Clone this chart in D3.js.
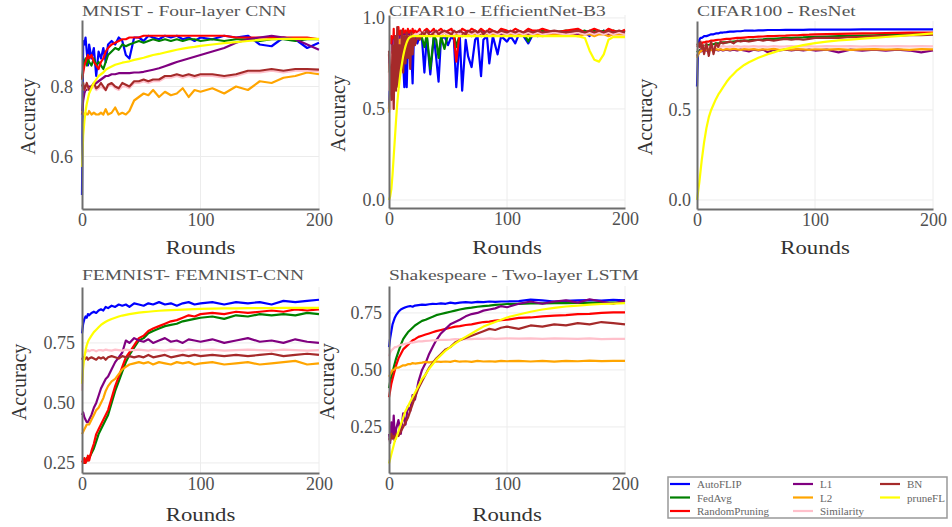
<!DOCTYPE html>
<html>
<head>
<meta charset="utf-8">
<script src="https://cdn.jsdelivr.net/npm/d3@7"></script>
<style>
body { margin: 0; background: #fff; }
svg text { font-family: "Liberation Serif", "Times New Roman", serif; }
.spine path { stroke: #6e6e6e; stroke-width: 2; }
.spine text { fill: #505050; font-size: 18px; }
.grid { stroke: #ececec; stroke-width: 1; }
.acc { fill: none; stroke-width: 2.2; stroke-linejoin: round; }
</style>
</head>
<body>
<div id="chart"></div>
<script>
// legend order = plotting order
var methods = ["AutoFLIP", "FedAvg", "RandomPruning", "L1", "L2", "Similarity", "BN", "pruneFL"];
var colors = ["#0000ff", "#008000", "#ff0000", "#800080", "#ffa500", "#ffc0cb", "#a52a2a", "#ffff00"];
var titles = ["MNIST - Four-layer CNN", "CIFAR10 - EfficientNet-B3", "CIFAR100 - ResNet",
  "FEMNIST- FEMNIST-CNN", "Shakespeare - Two-layer LSTM"];
var xTicks = [0, 100, 200];

// rounds (MNIST, CIFAR100, FEMNIST, Shakespeare)
var rounds = [0,1,2,3,4,5,6,8,10,12,14,
  16,18,20,22,25,28,31,34,37,40,44,
  48,52,56,60,65,70,75,80,85,90,95,
  100,110,120,130,140,150,160,170,180,190,200];

// CIFAR10 is much spikier, so it gets a denser set
var cifar10Rounds = [0,1,2,3,4,5,6,7,8,9,10,11,12,
  13,14,15,16,17,18,19,20,21,22,
  24,26,28,30,32,35,38,40,42,44,
  47,50,53,55,57,60,62,65,67,70,
  73,75,78,80,83,85,88,92,95,100,
  103,107,110,114,118,122,126,130,140,150,
  160,166,170,174,178,182,186,190,195,200];

var mnistAcc = {
  AutoFLIP: [0.49,0.93,0.92,0.94,0.90,0.86,0.92,0.88,0.91,0.83,0.90,
    0.88,0.91,0.87,0.92,0.93,0.92,0.94,0.93,0.89,0.88,0.94,
    0.94,0.93,0.945,0.94,0.935,0.945,0.94,0.945,0.935,0.94,0.93,
    0.94,0.935,0.945,0.94,0.945,0.92,0.915,0.94,0.935,0.91,0.925],
  FedAvg: [0.82,0.85,0.87,0.88,0.86,0.88,0.87,0.86,0.88,0.86,0.87,
    0.86,0.85,0.87,0.89,0.90,0.91,0.905,0.92,0.915,0.92,0.925,
    0.93,0.925,0.93,0.935,0.93,0.935,0.93,0.935,0.93,0.935,0.935,
    0.93,0.935,0.93,0.935,0.935,0.93,0.935,0.935,0.93,0.935,0.935],
  RandomPruning: [0.82,0.84,0.86,0.87,0.88,0.89,0.88,0.89,0.87,0.86,0.85,
    0.87,0.88,0.90,0.91,0.92,0.925,0.93,0.935,0.935,0.94,0.94,
    0.94,0.945,0.945,0.945,0.945,0.945,0.945,0.945,0.945,0.945,0.945,
    0.945,0.945,0.945,0.94,0.94,0.94,0.94,0.94,0.94,0.94,0.935],
  L1: [0.72,0.76,0.78,0.79,0.79,0.80,0.80,0.80,0.805,0.81,0.815,
    0.82,0.825,0.83,0.83,0.835,0.835,0.838,0.838,0.838,0.838,0.84,
    0.84,0.842,0.845,0.848,0.852,0.858,0.864,0.87,0.875,0.88,0.885,
    0.89,0.90,0.91,0.925,0.935,0.94,0.945,0.94,0.935,0.92,0.905],
  L2: [0.73,0.72,0.72,0.725,0.72,0.72,0.73,0.72,0.725,0.72,0.72,
    0.725,0.72,0.735,0.72,0.725,0.74,0.72,0.725,0.72,0.73,0.76,
    0.77,0.78,0.775,0.79,0.77,0.785,0.775,0.78,0.795,0.77,0.79,
    0.785,0.795,0.78,0.80,0.79,0.815,0.81,0.825,0.83,0.84,0.835],
  Similarity: [0.79,0.80,0.79,0.795,0.80,0.795,0.79,0.795,0.80,0.79,0.795,
    0.80,0.795,0.79,0.80,0.805,0.795,0.79,0.80,0.80,0.795,0.81,
    0.81,0.815,0.81,0.815,0.815,0.825,0.825,0.83,0.825,0.83,0.825,
    0.83,0.83,0.825,0.83,0.84,0.84,0.845,0.84,0.845,0.845,0.843],
  BN: [0.80,0.81,0.79,0.80,0.81,0.80,0.79,0.80,0.81,0.795,0.80,
    0.81,0.80,0.79,0.805,0.81,0.80,0.795,0.81,0.805,0.80,0.815,
    0.815,0.82,0.815,0.82,0.82,0.83,0.83,0.835,0.83,0.835,0.83,
    0.835,0.835,0.83,0.835,0.845,0.845,0.85,0.845,0.85,0.85,0.848],
  pruneFL: [0.57,0.66,0.70,0.73,0.75,0.765,0.78,0.795,0.81,0.82,0.83,
    0.835,0.84,0.848,0.852,0.857,0.862,0.865,0.868,0.87,0.872,0.876,
    0.879,0.882,0.886,0.89,0.893,0.897,0.901,0.905,0.908,0.911,0.913,
    0.916,0.92,0.924,0.927,0.93,0.933,0.935,0.936,0.936,0.936,0.936]
};

var cifar10Acc = {
  AutoFLIP: [0.5,0.68,0.55,0.72,0.6,0.82,0.7,0.88,0.78,0.9,0.85,0.88,0.75,
    0.62,0.88,0.62,0.86,0.78,0.9,0.8,0.64,0.88,0.9,
    0.86,0.9,0.88,0.7,0.9,0.69,0.9,0.78,0.65,0.88,
    0.9,0.85,0.9,0.88,0.62,0.9,0.6,0.88,0.79,0.73,
    0.88,0.9,0.68,0.88,0.9,0.75,0.9,0.8,0.9,0.87,
    0.9,0.86,0.91,0.9,0.86,0.91,0.9,0.92,0.91,0.92,
    0.93,0.92,0.9,0.93,0.92,0.93,0.91,0.925,0.92,0.92],
  FedAvg: [0.7,0.8,0.75,0.88,0.7,0.9,0.82,0.9,0.85,0.91,0.86,0.9,0.88,
    0.9,0.88,0.91,0.89,0.9,0.87,0.91,0.9,0.89,0.91,
    0.9,0.91,0.89,0.84,0.91,0.72,0.9,0.88,0.78,0.9,
    0.83,0.91,0.9,0.91,0.84,0.91,0.9,0.92,0.91,0.9,
    0.92,0.91,0.9,0.92,0.91,0.92,0.91,0.92,0.91,0.92,
    0.91,0.92,0.91,0.92,0.87,0.92,0.92,0.93,0.92,0.93,
    0.92,0.93,0.92,0.93,0.92,0.93,0.92,0.93,0.92,0.93],
  RandomPruning: [0.8,0.62,0.9,0.7,0.94,0.65,0.88,0.78,0.95,0.82,0.93,0.85,0.94,
    0.88,0.93,0.85,0.94,0.9,0.93,0.88,0.94,0.91,0.93,
    0.92,0.94,0.9,0.93,0.94,0.92,0.94,0.91,0.93,0.94,
    0.92,0.93,0.94,0.9,0.76,0.92,0.94,0.93,0.92,0.94,
    0.93,0.92,0.94,0.93,0.92,0.94,0.93,0.92,0.94,0.93,
    0.92,0.94,0.93,0.92,0.94,0.93,0.93,0.94,0.92,0.93,
    0.94,0.92,0.93,0.94,0.93,0.92,0.94,0.93,0.92,0.935],
  L1: [0.75,0.8,0.85,0.82,0.88,0.85,0.9,0.87,0.9,0.88,0.9,0.89,0.9,
    0.91,0.9,0.91,0.9,0.91,0.9,0.91,0.91,0.9,0.91,
    0.91,0.92,0.91,0.92,0.91,0.92,0.91,0.92,0.91,0.92,
    0.92,0.91,0.92,0.91,0.92,0.92,0.91,0.92,0.92,0.91,
    0.92,0.92,0.91,0.92,0.92,0.91,0.92,0.92,0.91,0.92,
    0.92,0.91,0.92,0.92,0.91,0.92,0.92,0.91,0.92,0.92,
    0.91,0.92,0.92,0.91,0.92,0.92,0.91,0.92,0.92,0.92],
  L2: [0.48,0.6,0.55,0.7,0.65,0.8,0.75,0.85,0.82,0.88,0.86,0.89,0.88,
    0.9,0.89,0.9,0.89,0.9,0.9,0.9,0.91,0.9,0.91,
    0.91,0.9,0.91,0.91,0.9,0.91,0.91,0.9,0.91,0.91,
    0.9,0.91,0.91,0.9,0.91,0.91,0.9,0.91,0.91,0.9,
    0.91,0.91,0.9,0.91,0.91,0.9,0.91,0.91,0.9,0.91,
    0.91,0.9,0.91,0.91,0.9,0.91,0.91,0.9,0.91,0.91,
    0.9,0.91,0.91,0.9,0.91,0.91,0.9,0.91,0.91,0.91],
  Similarity: [0.6,0.85,0.5,0.8,0.55,0.88,0.65,0.9,0.7,0.85,0.75,0.9,0.8,
    0.88,0.82,0.9,0.85,0.9,0.86,0.91,0.88,0.9,0.91,
    0.91,0.92,0.91,0.92,0.91,0.91,0.92,0.91,0.92,0.91,
    0.92,0.91,0.92,0.91,0.92,0.91,0.92,0.91,0.92,0.91,
    0.92,0.91,0.92,0.91,0.92,0.91,0.92,0.91,0.92,0.91,
    0.92,0.91,0.92,0.91,0.92,0.91,0.92,0.91,0.92,0.91,
    0.92,0.91,0.92,0.91,0.92,0.91,0.92,0.91,0.92,0.91],
  BN: [0.82,0.7,0.55,0.85,0.5,0.9,0.6,0.95,0.62,0.85,0.72,0.93,0.7,
    0.9,0.75,0.92,0.78,0.9,0.72,0.92,0.8,0.9,0.85,
    0.9,0.88,0.92,0.91,0.93,0.9,0.92,0.93,0.91,0.92,
    0.93,0.92,0.91,0.93,0.92,0.93,0.92,0.91,0.93,0.92,
    0.93,0.92,0.93,0.91,0.93,0.92,0.93,0.92,0.93,0.92,
    0.93,0.92,0.93,0.92,0.93,0.92,0.93,0.92,0.93,0.92,
    0.93,0.92,0.93,0.92,0.93,0.92,0.93,0.92,0.93,0.92],
  pruneFL: [0.0,0.02,0.06,0.14,0.24,0.34,0.44,0.53,0.6,0.66,0.71,0.75,0.79,
    0.82,0.845,0.865,0.88,0.89,0.895,0.898,0.9,0.9,0.9,
    0.9,0.9,0.9,0.9,0.9,0.9,0.9,0.9,0.9,0.9,
    0.9,0.9,0.9,0.9,0.9,0.9,0.9,0.9,0.9,0.9,
    0.9,0.9,0.9,0.9,0.9,0.9,0.9,0.9,0.9,0.9,
    0.9,0.9,0.9,0.9,0.9,0.9,0.9,0.9,0.9,0.9,
    0.9,0.89,0.82,0.77,0.76,0.8,0.88,0.895,0.895,0.895]
};

var cifar100Acc = {
  AutoFLIP: [0.63,0.84,0.89,0.9,0.9,0.905,0.91,0.91,0.915,0.92,0.92,
    0.925,0.925,0.93,0.93,0.932,0.935,0.935,0.937,0.937,0.94,0.94,
    0.94,0.942,0.942,0.944,0.944,0.944,0.945,0.945,0.945,0.945,0.946,
    0.946,0.946,0.946,0.946,0.947,0.947,0.947,0.947,0.947,0.947,0.947],
  FedAvg: [0.82,0.83,0.84,0.845,0.85,0.85,0.855,0.86,0.86,0.865,0.865,
    0.87,0.87,0.872,0.875,0.875,0.878,0.88,0.882,0.885,0.885,0.887,
    0.89,0.89,0.892,0.895,0.895,0.898,0.9,0.9,0.902,0.903,0.905,
    0.906,0.908,0.91,0.912,0.913,0.915,0.917,0.918,0.92,0.921,0.922],
  RandomPruning: [0.85,0.86,0.865,0.87,0.87,0.875,0.875,0.88,0.88,0.885,0.885,
    0.888,0.89,0.89,0.892,0.895,0.895,0.898,0.9,0.9,0.902,0.905,
    0.905,0.907,0.908,0.91,0.91,0.912,0.913,0.915,0.915,0.917,0.918,
    0.92,0.921,0.923,0.924,0.925,0.926,0.927,0.928,0.929,0.93,0.93],
  L1: [0.8,0.81,0.82,0.83,0.825,0.83,0.835,0.83,0.83,0.835,0.83,
    0.835,0.83,0.835,0.83,0.835,0.83,0.835,0.83,0.835,0.83,0.825,
    0.835,0.83,0.835,0.82,0.835,0.83,0.835,0.83,0.835,0.83,0.835,
    0.83,0.835,0.82,0.835,0.83,0.835,0.83,0.835,0.83,0.82,0.83],
  L2: [0.79,0.81,0.82,0.825,0.83,0.835,0.83,0.835,0.838,0.832,0.836,
    0.838,0.834,0.837,0.833,0.838,0.835,0.839,0.836,0.834,0.838,0.835,
    0.838,0.834,0.837,0.835,0.839,0.834,0.837,0.835,0.838,0.836,0.834,
    0.837,0.835,0.838,0.834,0.836,0.838,0.835,0.837,0.834,0.838,0.836],
  Similarity: [0.83,0.84,0.845,0.85,0.848,0.852,0.85,0.853,0.85,0.852,0.851,
    0.853,0.85,0.852,0.854,0.851,0.853,0.852,0.854,0.851,0.853,0.852,
    0.854,0.852,0.853,0.851,0.854,0.852,0.853,0.855,0.852,0.853,0.854,
    0.852,0.854,0.853,0.855,0.852,0.854,0.853,0.855,0.853,0.854,0.853],
  BN: [0.86,0.87,0.85,0.88,0.84,0.86,0.81,0.87,0.8,0.88,0.81,
    0.87,0.85,0.88,0.87,0.875,0.88,0.87,0.885,0.88,0.885,0.88,
    0.885,0.89,0.885,0.89,0.885,0.89,0.895,0.89,0.895,0.89,0.895,
    0.9,0.9,0.9,0.905,0.905,0.91,0.91,0.912,0.915,0.915,0.918],
  pruneFL: [0.0,0.05,0.1,0.16,0.22,0.27,0.32,0.4,0.46,0.5,0.53,
    0.56,0.585,0.605,0.625,0.655,0.68,0.7,0.72,0.735,0.75,0.765,
    0.778,0.79,0.8,0.81,0.82,0.83,0.838,0.846,0.853,0.86,0.866,
    0.871,0.879,0.886,0.891,0.896,0.9,0.905,0.91,0.915,0.92,0.925]
};

var femnistAcc = {
  AutoFLIP: [0.79,0.83,0.85,0.86,0.855,0.87,0.865,0.875,0.88,0.875,0.885,
    0.89,0.885,0.9,0.895,0.905,0.9,0.91,0.905,0.91,0.9,0.915,
    0.91,0.905,0.915,0.91,0.92,0.91,0.915,0.905,0.915,0.92,0.91,
    0.915,0.92,0.91,0.92,0.915,0.92,0.91,0.925,0.92,0.925,0.93],
  FedAvg: [0.26,0.26,0.25,0.26,0.27,0.26,0.27,0.29,0.31,0.34,0.37,
    0.39,0.41,0.43,0.45,0.5,0.55,0.59,0.63,0.67,0.7,0.73,
    0.76,0.77,0.79,0.8,0.81,0.82,0.825,0.83,0.84,0.845,0.85,
    0.855,0.86,0.85,0.865,0.86,0.87,0.865,0.87,0.865,0.875,0.87],
  RandomPruning: [0.26,0.25,0.27,0.25,0.26,0.28,0.26,0.3,0.33,0.37,0.39,
    0.41,0.43,0.45,0.47,0.52,0.57,0.61,0.65,0.69,0.71,0.74,
    0.77,0.78,0.8,0.81,0.82,0.83,0.84,0.845,0.855,0.865,0.86,
    0.87,0.875,0.87,0.88,0.875,0.88,0.885,0.88,0.89,0.885,0.89],
  L1: [0.45,0.46,0.44,0.43,0.42,0.42,0.43,0.45,0.48,0.5,0.53,
    0.56,0.58,0.6,0.61,0.64,0.67,0.69,0.71,0.76,0.75,0.77,
    0.76,0.755,0.765,0.75,0.76,0.77,0.755,0.76,0.75,0.765,0.76,
    0.755,0.765,0.75,0.76,0.77,0.755,0.76,0.75,0.765,0.755,0.75],
  L2: [0.37,0.38,0.39,0.4,0.41,0.41,0.41,0.43,0.45,0.47,0.48,
    0.5,0.52,0.55,0.57,0.59,0.6,0.62,0.64,0.65,0.66,0.665,
    0.67,0.665,0.67,0.66,0.67,0.665,0.66,0.67,0.665,0.67,0.66,
    0.665,0.67,0.66,0.665,0.67,0.66,0.665,0.67,0.675,0.66,0.665],
  Similarity: [0.55,0.66,0.7,0.71,0.715,0.72,0.715,0.72,0.72,0.715,0.72,
    0.72,0.718,0.722,0.72,0.718,0.722,0.72,0.718,0.722,0.72,0.72,
    0.722,0.72,0.718,0.722,0.72,0.718,0.722,0.72,0.718,0.722,0.72,
    0.72,0.722,0.718,0.72,0.722,0.72,0.718,0.722,0.72,0.718,0.72],
  BN: [0.68,0.69,0.68,0.685,0.69,0.68,0.685,0.69,0.685,0.68,0.69,
    0.685,0.69,0.68,0.69,0.695,0.69,0.685,0.695,0.69,0.695,0.69,
    0.695,0.69,0.7,0.69,0.695,0.7,0.69,0.695,0.7,0.695,0.7,
    0.695,0.7,0.695,0.7,0.695,0.7,0.705,0.695,0.7,0.705,0.7],
  pruneFL: [0.58,0.65,0.69,0.72,0.74,0.755,0.765,0.78,0.795,0.805,0.815,
    0.825,0.832,0.838,0.843,0.85,0.855,0.86,0.864,0.867,0.87,0.873,
    0.876,0.878,0.88,0.882,0.884,0.886,0.887,0.888,0.889,0.89,0.891,
    0.892,0.893,0.894,0.894,0.895,0.895,0.895,0.896,0.896,0.896,0.896]
};

var shakespeareAcc = {
  AutoFLIP: [0.6,0.64,0.67,0.7,0.715,0.73,0.74,0.755,0.765,0.77,0.775,
    0.778,0.78,0.777,0.782,0.784,0.786,0.785,0.788,0.79,0.789,0.792,
    0.79,0.795,0.792,0.795,0.797,0.795,0.798,0.797,0.8,0.798,0.8,
    0.8,0.802,0.808,0.805,0.8,0.803,0.805,0.806,0.804,0.807,0.805],
  FedAvg: [0.42,0.45,0.47,0.49,0.51,0.53,0.55,0.58,0.61,0.635,0.65,
    0.665,0.675,0.685,0.695,0.705,0.715,0.72,0.727,0.733,0.74,0.745,
    0.75,0.755,0.76,0.765,0.77,0.773,0.777,0.78,0.782,0.785,0.787,
    0.789,0.79,0.792,0.792,0.793,0.793,0.794,0.794,0.795,0.795,0.795],
  RandomPruning: [0.38,0.41,0.44,0.46,0.48,0.5,0.52,0.55,0.57,0.59,0.6,
    0.61,0.62,0.63,0.635,0.645,0.65,0.655,0.66,0.665,0.67,0.675,
    0.68,0.685,0.69,0.692,0.697,0.7,0.705,0.71,0.712,0.716,0.718,
    0.72,0.728,0.73,0.735,0.738,0.74,0.745,0.746,0.75,0.752,0.752],
  L1: [0.22,0.18,0.27,0.2,0.3,0.19,0.24,0.28,0.22,0.31,0.26,
    0.34,0.32,0.39,0.37,0.45,0.5,0.53,0.57,0.6,0.63,0.66,
    0.68,0.7,0.71,0.72,0.735,0.745,0.75,0.76,0.765,0.77,0.78,
    0.775,0.79,0.8,0.79,0.8,0.805,0.795,0.81,0.8,0.79,0.805],
  L2: [0.47,0.48,0.49,0.5,0.5,0.505,0.51,0.51,0.515,0.52,0.52,
    0.525,0.525,0.53,0.528,0.53,0.532,0.535,0.533,0.535,0.537,0.535,
    0.537,0.535,0.54,0.536,0.538,0.535,0.54,0.537,0.538,0.536,0.54,
    0.538,0.54,0.537,0.54,0.536,0.54,0.538,0.541,0.539,0.54,0.54],
  Similarity: [0.56,0.575,0.585,0.59,0.595,0.6,0.6,0.605,0.61,0.612,0.615,
    0.617,0.62,0.62,0.622,0.625,0.625,0.627,0.628,0.63,0.63,0.632,
    0.632,0.633,0.635,0.634,0.636,0.635,0.637,0.636,0.638,0.636,0.637,
    0.638,0.637,0.638,0.636,0.638,0.637,0.636,0.638,0.635,0.636,0.636],
  BN: [0.2,0.19,0.22,0.2,0.21,0.19,0.22,0.21,0.23,0.25,0.27,
    0.29,0.32,0.35,0.38,0.42,0.45,0.48,0.51,0.53,0.55,0.57,
    0.59,0.6,0.62,0.63,0.64,0.65,0.66,0.67,0.68,0.675,0.685,
    0.69,0.68,0.695,0.69,0.7,0.695,0.705,0.7,0.71,0.705,0.7],
  pruneFL: [0.09,0.11,0.13,0.15,0.17,0.19,0.2,0.23,0.26,0.29,0.32,
    0.34,0.36,0.38,0.4,0.43,0.46,0.48,0.505,0.525,0.545,0.565,
    0.585,0.6,0.615,0.63,0.645,0.66,0.675,0.69,0.7,0.71,0.72,
    0.73,0.743,0.755,0.765,0.772,0.778,0.782,0.786,0.789,0.791,0.793]
};

// panel boxes in page pixels
var panels = [
  {rounds: rounds, acc: mnistAcc, left: 82, right: 319, top: 20, bottom: 209,
   yDomain: [0.45, 0.99], yTicks: [0.6, 0.8], fmt: ".1f", pad: 9, labX: 28, titleY: 16, roundsY: 254},
  {rounds: cifar10Rounds, acc: cifar10Acc, left: 389, right: 625, top: 15, bottom: 208,
   yDomain: [-0.044, 1.016], yTicks: [0, 0.5, 1], fmt: ".1f", pad: 4, labX: 338, titleY: 16, roundsY: 254},
  {rounds: rounds, acc: cifar100Acc, left: 697, right: 933, top: 21, bottom: 209,
   yDomain: [-0.05, 0.994], yTicks: [0, 0.5], fmt: ".1f", pad: 6, labX: 645, titleY: 16, roundsY: 254},
  {rounds: rounds, acc: femnistAcc, left: 82, right: 319, top: 287, bottom: 473,
   yDomain: [0.208, 0.983], yTicks: [0.25, 0.5, 0.75], fmt: ".2f", pad: 7, labX: 19, titleY: 280, roundsY: 521},
  {rounds: rounds, acc: shakespeareAcc, left: 389, right: 625, top: 286, bottom: 473,
   yDomain: [0.048, 0.868], yTicks: [0.25, 0.5, 0.75], fmt: ".2f", pad: 7, labX: 327, titleY: 280, roundsY: 521}
];

var svg = d3.select("#chart").append("svg")
  .attr("width", 952)
  .attr("height", 527);

panels.forEach(function(p, k){
  var g = svg.append("g");

  var x = d3.scaleLinear().domain([0, 200]).range([p.left, p.right]);
  var y = d3.scaleLinear().domain(p.yDomain).range([p.bottom, p.top]);

  // light grid
  g.selectAll(".hgrid")
    .data(p.yTicks)
  .enter().append("line")
    .attr("class", "grid")
    .attr("x1", p.left).attr("x2", p.right)
    .attr("y1", function(d){ return y(d); })
    .attr("y2", function(d){ return y(d); });
  g.selectAll(".vgrid")
    .data(xTicks.slice(1))
  .enter().append("line")
    .attr("class", "grid")
    .attr("y1", p.top).attr("y2", p.bottom)
    .attr("x1", function(d){ return x(d); })
    .attr("x2", function(d){ return x(d); });

  var line = d3.line()
    .x(function(d, i){ return x(p.rounds[i]); })
    .y(function(d){ return y(d); });

  methods.forEach(function(m, i){
    g.append("path")
      .datum(p.acc[m])
      .attr("class", "acc")
      .attr("stroke", colors[i])
      .attr("d", line);
  });

  // left and bottom spines only
  g.append("g")
    .attr("class", "spine")
    .attr("transform", "translate(0," + p.bottom + ")")
    .call(d3.axisBottom(x).tickValues(xTicks).tickSize(0).tickPadding(4).tickFormat(d3.format("d")));
  g.append("g")
    .attr("class", "spine")
    .attr("transform", "translate(" + p.left + ",0)")
    .call(d3.axisLeft(y).tickValues(p.yTicks).tickSize(0).tickPadding(p.pad).tickFormat(d3.format(p.fmt)));

  // title, left aligned and a bit stretched like the source
  g.append("text")
    .attr("transform", "translate(" + p.left + "," + p.titleY + ") scale(1.3,1)")
    .style("font-size", "15px")
    .style("fill", "#555")
    .text(titles[k]);

  g.append("text")
    .attr("transform", "translate(" + ((p.left + p.right) / 2) + "," + p.roundsY + ") scale(1.2,1)")
    .attr("text-anchor", "middle")
    .style("font-size", "19px")
    .style("fill", "#333")
    .text("Rounds");

  g.append("text")
    .attr("transform", "translate(" + p.labX + "," + ((p.top + p.bottom) / 2 + 2) + ") rotate(-90)")
    .attr("text-anchor", "middle")
    .attr("dy", "0.35em")
    .style("font-size", "20px")
    .style("fill", "#333")
    .text("Accuracy");
});

// legend, three columns filled top to bottom
var legend = svg.append("g");
legend.append("rect")
  .attr("x", 668).attr("y", 477)
  .attr("width", 279).attr("height", 41)
  .attr("fill", "#fff")
  .attr("stroke", "#999")
  .attr("stroke-width", 1.5);

var colX = [670, 793, 880];
methods.forEach(function(m, i){
  var cx = colX[Math.floor(i / 3)];
  var cy = 484 + (i % 3) * 13.5;
  legend.append("line")
    .attr("x1", cx).attr("x2", cx + 20)
    .attr("y1", cy).attr("y2", cy)
    .attr("stroke", colors[i])
    .attr("stroke-width", 2.2);
  legend.append("text")
    .attr("x", cx + 27).attr("y", cy + 4)
    .style("font-size", "11px")
    .style("fill", "#666")
    .text(m);
});
</script>
</body>
</html>
